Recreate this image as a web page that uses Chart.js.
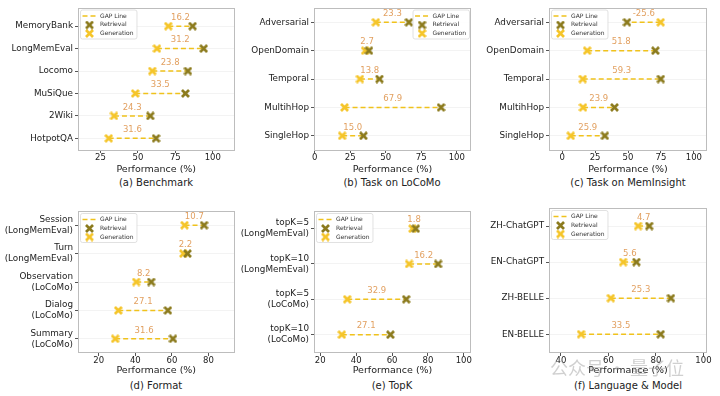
<!DOCTYPE html>
<html>
<head>
<meta charset="utf-8">
<script src="https://cdn.jsdelivr.net/npm/chart.js@4"></script>
<style>
body { margin: 0; background: #fff; width: 720px; height: 396px; position: relative; overflow: hidden; font-family: "DejaVu Sans", sans-serif; }
.panel { position: absolute; }
.cap { position: absolute; font-size: 10px; line-height: 12px; color: #222; white-space: nowrap; transform: translateX(-50%); }
.wm { position: absolute; font-family: "Noto Sans CJK SC", sans-serif; font-size: 18px; line-height: 20px; color: rgba(150,150,150,0.45); white-space: nowrap; }
</style>
</head>
<body>
<div class="panel" style="left:0;top:0;width:240px;height:175px"><canvas id="cA"></canvas></div>
<div class="panel" style="left:240px;top:0;width:240px;height:175px"><canvas id="cB"></canvas></div>
<div class="panel" style="left:480px;top:0;width:240px;height:175px"><canvas id="cC"></canvas></div>
<div class="panel" style="left:0;top:198px;width:240px;height:178px"><canvas id="cD"></canvas></div>
<div class="panel" style="left:240px;top:198px;width:240px;height:178px"><canvas id="cE"></canvas></div>
<div class="panel" style="left:480px;top:198px;width:240px;height:178px"><canvas id="cF"></canvas></div>

<div class="cap" style="left:156px;top:177px">(a) Benchmark</div>
<div class="cap" style="left:392px;top:177px">(b) Task on LoCoMo</div>
<div class="cap" style="left:628px;top:177px">(c) Task on MemInsight</div>
<div class="cap" style="left:156px;top:380px">(d) Format</div>
<div class="cap" style="left:392px;top:380px">(e) TopK</div>
<div class="cap" style="left:628px;top:380px">(f) Language &amp; Model</div>

<div class="wm" style="left:550px;top:357px">公众号 · 量子位</div>

<script>
// (a) Benchmark
var benchCats = ['MemoryBank', 'LongMemEval', 'Locomo', 'MuSiQue', '2Wiki', 'HotpotQA'];
var benchRet = [86.5, 93.9, 83.4, 81.7, 58.3, 62.1];
var benchGen = [70.3, 62.7, 59.6, 48.2, 34.0, 30.5];
var benchGap = ['16.2', '31.2', '23.8', '33.5', '24.3', '31.6'];
var benchTicks = [25, 50, 75, 100];

// (b) Task on LoCoMo
var locomoCats = ['Adversarial', 'OpenDomain', 'Temporal', 'MultihHop', 'SingleHop'];
var locomoRet = [66.3, 38.2, 45.6, 88.9, 34.3];
var locomoGen = [43.0, 35.5, 31.8, 21.0, 19.3];
var locomoGap = ['23.3', '2.7', '13.8', '67.9', '15.0'];
var locomoTicks = [0, 25, 50, 75, 100];

// (c) Task on MemInsight
var insightCats = ['Adversarial', 'OpenDomain', 'Temporal', 'MultihHop', 'SingleHop'];
var insightRet = [49.2, 70.8, 74.9, 39.7, 32.4];
var insightGen = [74.8, 19.0, 15.6, 15.8, 6.5];
var insightGap = ['-25.6', '51.8', '59.3', '23.9', '25.9'];
var insightTicks = [0, 25, 50, 75, 100];

// (d) Format
var formatCats = [['Session', '(LongMemEval)'], ['Turn', '(LongMemEval)'], ['Observation', '(LoCoMo)'], ['Dialog', '(LoCoMo)'], ['Summary', '(LoCoMo)']];
var formatRet = [77.6, 68.5, 48.7, 57.8, 60.6];
var formatGen = [66.9, 66.3, 40.5, 30.7, 29.0];
var formatGap = ['10.7', '2.2', '8.2', '27.1', '31.6'];
var formatTicks = [20, 40, 60, 80];

// (e) TopK
var topkCats = [['topK=5', '(LongMemEval)'], ['topK=10', '(LongMemEval)'], ['topK=5', '(LoCoMo)'], ['topK=10', '(LoCoMo)']];
var topkRet = [73.2, 85.7, 67.9, 59.1];
var topkGen = [71.4, 69.5, 35.0, 32.0];
var topkGap = ['1.8', '16.2', '32.9', '27.1'];
var topkTicks = [20, 40, 60, 80, 100];

// (f) Language & Model
var langCats = ['ZH-ChatGPT', 'EN-ChatGPT', 'ZH-BELLE', 'EN-BELLE'];
var langRet = [77.2, 71.8, 86.3, 82.0];
var langGen = [72.5, 66.2, 61.0, 48.5];
var langGap = ['4.7', '5.6', '25.3', '33.5'];
var langTicks = [40, 60, 80, 100];

var GOLD = '#f0c21c';
var RET_COLOR = '#8c7b1e';
var GEN_COLOR = '#f5c52a';
var GAP_TEXT = '#e2a060';
var FONT = '"DejaVu Sans", sans-serif';

// filled "X" marker like matplotlib's 'X'
function makeX(color) {
    var c = document.createElement('canvas');
    c.width = 9;
    c.height = 9;
    var g = c.getContext('2d');
    g.strokeStyle = color;
    g.lineWidth = 2.7;
    g.lineCap = 'butt';
    g.beginPath();
    g.moveTo(1, 1); g.lineTo(8, 8);
    g.moveTo(8, 1); g.lineTo(1, 8);
    g.stroke();
    return c;
}
var retMark = makeX(RET_COLOR);
var genMark = makeX(GEN_COLOR);

var framePlugin = {
    id: 'frame',
    afterDraw: function (chart) {
        var a = chart.chartArea, ctx = chart.ctx;
        ctx.save();
        ctx.strokeStyle = '#bdbdbd';
        ctx.lineWidth = 1;
        ctx.strokeRect(Math.round(a.left) + 0.5, Math.round(a.top) + 0.5, Math.round(a.right - a.left) - 1, Math.round(a.bottom - a.top) - 1);
        ctx.restore();
    }
};

var gapLabels = {
    id: 'gapLabels',
    afterDatasetsDraw: function (chart, args, opts) {
        var ctx = chart.ctx, xs = chart.scales.x, ys = chart.scales.y;
        ctx.save();
        ctx.font = '8.5px ' + FONT;
        ctx.fillStyle = GAP_TEXT;
        ctx.textAlign = 'center';
        ctx.textBaseline = 'middle';
        opts.text.forEach(function (t, i) {
            var x = xs.getPixelForValue((opts.ret[i] + opts.gen[i]) / 2);
            var y = ys.getPixelForValue(i) - 8.5;
            ctx.fillText(t, x, y);
        });
        ctx.restore();
    }
};

var boxLegend = {
    id: 'boxLegend',
    afterDraw: function (chart, args, opts) {
        var ctx = chart.ctx, a = chart.chartArea;
        var items = ['GAP Line', 'Retrieval', 'Generation'];
        ctx.save();
        ctx.font = '6px ' + FONT;
        var tw = Math.max.apply(null, items.map(function (t) { return ctx.measureText(t).width; }));
        var w = 20 + tw + 3, h = 29;
        var x = opts.side === 'right' ? a.right - 2 - w : a.left + 2;
        var y = a.top + 2;
        ctx.fillStyle = 'rgba(255,255,255,0.85)';
        ctx.strokeStyle = '#d9d9d9';
        ctx.lineWidth = 0.8;
        ctx.beginPath();
        ctx.roundRect(x + 0.5, y + 0.5, w, h, 2);
        ctx.fill();
        ctx.stroke();
        // GAP line sample
        ctx.strokeStyle = GOLD;
        ctx.lineWidth = 1.5;
        ctx.setLineDash([5, 3]);
        ctx.beginPath();
        ctx.moveTo(x + 2.5, y + 6.5);
        ctx.lineTo(x + 16.5, y + 6.5);
        ctx.stroke();
        ctx.setLineDash([]);
        ctx.drawImage(retMark, x + 5, y + 11);
        ctx.drawImage(genMark, x + 5, y + 19.5);
        ctx.fillStyle = '#333';
        ctx.textAlign = 'left';
        ctx.textBaseline = 'middle';
        ctx.fillText(items[0], x + 20, y + 6.5);
        ctx.fillText(items[1], x + 20, y + 15.3);
        ctx.fillText(items[2], x + 20, y + 24);
        ctx.restore();
    }
};

function buildChart(id, cats, ret, gen, gap, xTicks, lay) {
    var datasets = [];
    datasets.push({
        label: 'Retrieval',
        data: ret.map(function (v, i) { return { x: v, y: i }; }),
        pointStyle: retMark,
        pointRadius: 4.5,
        order: 0
    });
    datasets.push({
        label: 'Generation',
        data: gen.map(function (v, i) { return { x: v, y: i }; }),
        pointStyle: genMark,
        pointRadius: 4.5,
        order: 1
    });
    cats.forEach(function (c, i) {
        datasets.push({
            label: 'GAP Line',
            data: [{ x: gen[i], y: i }, { x: ret[i], y: i }],
            showLine: true,
            borderColor: GOLD,
            borderWidth: 1.5,
            borderDash: [5, 3],
            pointRadius: 0,
            order: 2
        });
    });

    new Chart(document.getElementById(id), {
        type: 'scatter',
        data: { datasets: datasets },
        options: {
            responsive: true,
            maintainAspectRatio: false,
            animation: false,
            events: [],
            layout: { padding: { top: lay.padTop, right: lay.padRight, left: 0, bottom: 0 } },
            plugins: {
                legend: { display: false },
                tooltip: { enabled: false },
                gapLabels: { ret: ret, gen: gen, text: gap },
                boxLegend: { side: lay.legendSide }
            },
            scales: {
                x: {
                    type: 'linear',
                    min: lay.xMin,
                    max: lay.xMax,
                    afterBuildTicks: function (s) { s.ticks = xTicks.map(function (v) { return { value: v }; }); },
                    afterFit: function (s) { s.height = lay.axisH; },
                    border: { display: false },
                    grid: { drawOnChartArea: false, tickLength: 3, tickColor: '#555' },
                    ticks: { font: { family: FONT, size: 8.5 }, color: '#222', padding: 0, maxRotation: 0 },
                    title: { display: true, text: 'Performance (%)', font: { family: FONT, size: 9.5 }, color: '#222', padding: 0 }
                },
                y: {
                    type: 'linear',
                    reverse: true,
                    min: lay.yMin,
                    max: lay.yMax,
                    afterBuildTicks: function (s) { s.ticks = cats.map(function (c, i) { return { value: i }; }); },
                    afterFit: function (s) { s.width = lay.yW; },
                    border: { display: false },
                    grid: { color: '#f3f3f3', tickLength: 3, tickColor: '#555' },
                    ticks: {
                        font: { family: FONT, size: 8.8, lineHeight: 1.25 },
                        color: '#222',
                        padding: 2,
                        callback: function (v) { return cats[v]; }
                    }
                }
            }
        },
        plugins: [framePlugin, gapLabels, boxLegend]
    });
}

buildChart('cA', benchCats, benchRet, benchGen, benchGap, benchTicks,
    { padTop: 5, padRight: 5, axisH: 25, yW: 78, xMin: 10, xMax: 114.5, yMin: -0.83, yMax: 5.52, legendSide: 'left' });
buildChart('cB', locomoCats, locomoRet, locomoGen, locomoGap, locomoTicks,
    { padTop: 5, padRight: 9, axisH: 25, yW: 74, xMin: -0.5, xMax: 110, yMin: -0.52, yMax: 4.5, legendSide: 'right' });
buildChart('cC', insightCats, insightRet, insightGen, insightGap, insightTicks,
    { padTop: 5, padRight: 13, axisH: 25, yW: 69, xMin: -10, xMax: 110, yMin: -0.52, yMax: 4.5, legendSide: 'left' });
buildChart('cD', formatCats, formatRet, formatGen, formatGap, formatTicks,
    { padTop: 10, padRight: 5, axisH: 23, yW: 78, xMin: 8.7, xMax: 94.2, yMin: -0.5, yMax: 4.5, legendSide: 'left' });
buildChart('cE', topkCats, topkRet, topkGen, topkGap, topkTicks,
    { padTop: 10, padRight: 9, axisH: 23, yW: 74, xMin: 16.5, xMax: 104, yMin: -0.5, yMax: 3.52, legendSide: 'left' });
buildChart('cF', langCats, langRet, langGen, langGap, langTicks,
    { padTop: 10, padRight: 13, axisH: 23, yW: 69, xMin: 35, xMax: 101.5, yMin: -0.5, yMax: 3.52, legendSide: 'left' });
</script>
</body>
</html>
